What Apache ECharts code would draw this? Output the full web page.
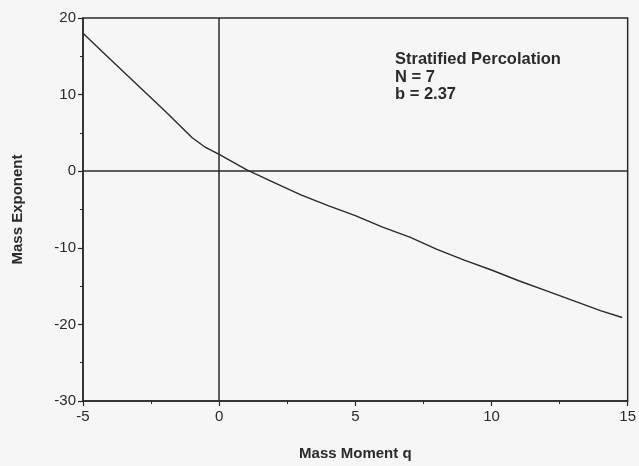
<!DOCTYPE html>
<html>
<head>
<meta charset="utf-8">
<script src="https://cdn.jsdelivr.net/npm/echarts@6/dist/echarts.min.js"></script>
<style>
html,body{margin:0;padding:0;background:#f6f6f6;}
#chart{width:639px;height:466px;}
</style>
</head>
<body>
<div id="chart"></div>
<script>
// Data
const qValues   = [-5, -4, -3, -2, -1, -0.5, 0, 1, 2, 3, 4, 5, 6, 7, 8, 9, 10, 11, 12, 13, 14, 14.8];
const tauValues = [18.0, 14.6, 11.25, 7.9, 4.4, 3.1, 2.2, 0.2, -1.45, -3.1, -4.5, -5.8, -7.3, -8.6, -10.2, -11.6, -12.9, -14.3, -15.6, -16.9, -18.2, -19.1];
const xTicks = [-5, 0, 5, 10, 15];
const yTicks = [-30, -20, -10, 0, 10, 20];
const xTitle = 'Mass Moment q';
const yTitle = 'Mass Exponent';
const annotation = ['Stratified Percolation', 'N = 7', 'b = 2.37'];

const ink = '#2a2a2a';
const font = 'Liberation Sans, Arial, Helvetica, sans-serif';

const chart = echarts.init(document.getElementById('chart'));
chart.setOption({
  backgroundColor: '#f6f6f6',
  animation: false,
  grid: {
    left: 83, right: 11, top: 18, bottom: 63,
    show: true, borderColor: ink, borderWidth: 1.5, backgroundColor: 'transparent'
  },
  xAxis: {
    type: 'value',
    min: xTicks[0], max: xTicks[xTicks.length - 1], interval: 5,
    name: xTitle, nameLocation: 'middle', nameGap: 45,
    nameTextStyle: { fontFamily: font, fontWeight: 'bold', fontSize: 15, color: ink },
    axisLine: { onZero: false, lineStyle: { color: ink, width: 1.5 } },
    axisTick: { show: true, inside: false, length: 5, lineStyle: { color: ink, width: 1.2 } },
    minorTick: { show: true, splitNumber: 2, length: 3, lineStyle: { color: ink, width: 1 } },
    axisLabel: { fontFamily: font, fontSize: 15, color: ink, margin: 8 },
    splitLine: { show: false }
  },
  yAxis: {
    type: 'value',
    min: yTicks[0], max: yTicks[yTicks.length - 1], interval: 10,
    name: yTitle, nameLocation: 'middle', nameGap: 58,
    nameTextStyle: { fontFamily: font, fontWeight: 'bold', fontSize: 15, color: ink },
    axisLine: { onZero: false, lineStyle: { color: ink, width: 1.5 } },
    axisTick: { show: true, inside: false, length: 5, lineStyle: { color: ink, width: 1.2 } },
    minorTick: { show: true, splitNumber: 2, length: 3, lineStyle: { color: ink, width: 1 } },
    axisLabel: { fontFamily: font, fontSize: 15, color: ink, margin: 7 },
    splitLine: { show: false }
  },
  graphic: [{
    type: 'text',
    left: 395, top: 51,
    style: {
      text: annotation.join('\n'),
      fontFamily: font, fontWeight: 'bold', fontSize: 16.5, lineHeight: 17.5,
      fill: ink
    }
  }],
  series: [{
    type: 'line',
    data: qValues.map((q, i) => [q, tauValues[i]]),
    showSymbol: false,
    smooth: false,
    lineStyle: { color: ink, width: 1.4 },
    markLine: {
      silent: true,
      symbol: ['none', 'none'],
      label: { show: false },
      lineStyle: { color: ink, width: 1.5, type: 'solid' },
      data: [{ xAxis: 0 }, { yAxis: 0 }]
    }
  }]
});
</script>
</body>
</html>
